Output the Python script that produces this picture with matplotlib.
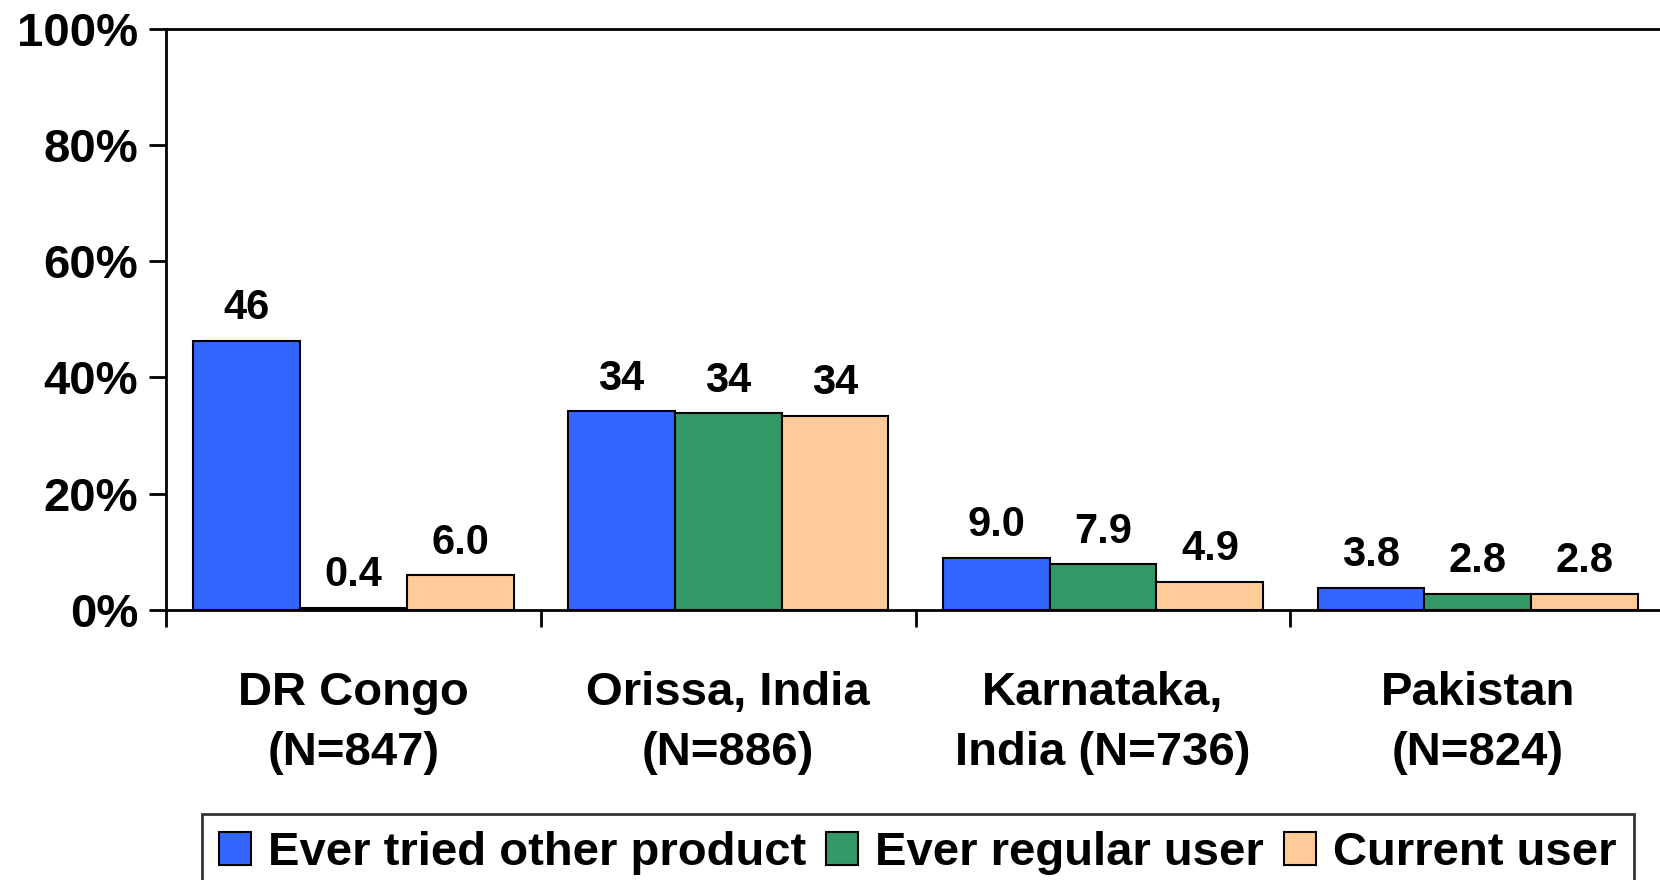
import matplotlib
matplotlib.use("Agg")
import matplotlib.pyplot as plt
import numpy as np

categories = ["DR Congo\n(N=847)", "Orissa, India\n(N=886)", "Karnataka,\nIndia (N=736)", "Pakistan\n(N=824)"]
series_names = ["Ever tried other product", "Ever regular user", "Current user"]
ever_tried = [46.3, 34.2, 9.0, 3.8]
ever_regular = [0.4, 33.8, 7.9, 2.8]
current = [6.0, 33.4, 4.9, 2.8]
labels_tried = ["46", "34", "9.0", "3.8"]
labels_regular = ["0.4", "34", "7.9", "2.8"]
labels_current = ["6.0", "34", "4.9", "2.8"]
yticks = [0, 20, 40, 60, 80, 100]
ytick_labels = ["0%", "20%", "40%", "60%", "80%", "100%"]

colors = ["#3366FF", "#339966", "#FFCC99"]

plt.rcParams['font.family'] = ['Liberation Sans', 'DejaVu Sans']
plt.rcParams['font.weight'] = 'bold'

fig = plt.figure(figsize=(16.6, 8.8), dpi=100)
ax = fig.add_axes([0.1, 0.3068, 0.9, 0.6607])

x = np.arange(len(categories))
w = 0.285
series = [ever_tried, ever_regular, current]
lbls = [labels_tried, labels_regular, labels_current]
for i, (vals, lab) in enumerate(zip(series, lbls)):
    bars = ax.bar(x + (i - 1) * w, vals, w, color=colors[i], edgecolor="black",
                  linewidth=1.5, label=series_names[i], zorder=3)
    for b, t in zip(bars, lab):
        ax.annotate(t, (b.get_x() + b.get_width() / 2, b.get_height()),
                    xytext=(0, 9), textcoords="offset points",
                    ha="center", va="bottom", fontsize=30, fontweight="bold")

ax.set_xlim(-0.5, 3.486)
ax.set_ylim(0, 100)
ax.set_yticks(yticks)
ax.set_yticklabels(ytick_labels, fontsize=34, fontweight="bold")
ax.tick_params(axis="y", length=12, width=2, pad=8)

ax.set_xticks(x)
ax.set_xticklabels(categories, fontsize=34, fontweight="bold", linespacing=1.47)
ax.tick_params(axis="x", which="major", length=0, pad=44)
ax.set_xticks([-0.5, 0.5, 1.5, 2.5], minor=True)
ax.tick_params(axis="x", which="minor", length=12, width=2)

for s in ["left", "bottom", "top"]:
    ax.spines[s].set_linewidth(2)
ax.spines["right"].set_visible(False)

leg = fig.legend(loc="upper left", bbox_to_anchor=(202 / 1660, 1 - 814 / 880),
                 ncol=3, frameon=True, fancybox=False, edgecolor="black",
                 fontsize=34, handlelength=0.68, handleheight=0.68,
                 handletextpad=0.36, columnspacing=0.42, borderaxespad=0,
                 borderpad=0.36)
leg.get_frame().set_linewidth(2)
for t in leg.get_texts():
    t.set_fontweight("bold")

fig.savefig("out.png", dpi=100)
